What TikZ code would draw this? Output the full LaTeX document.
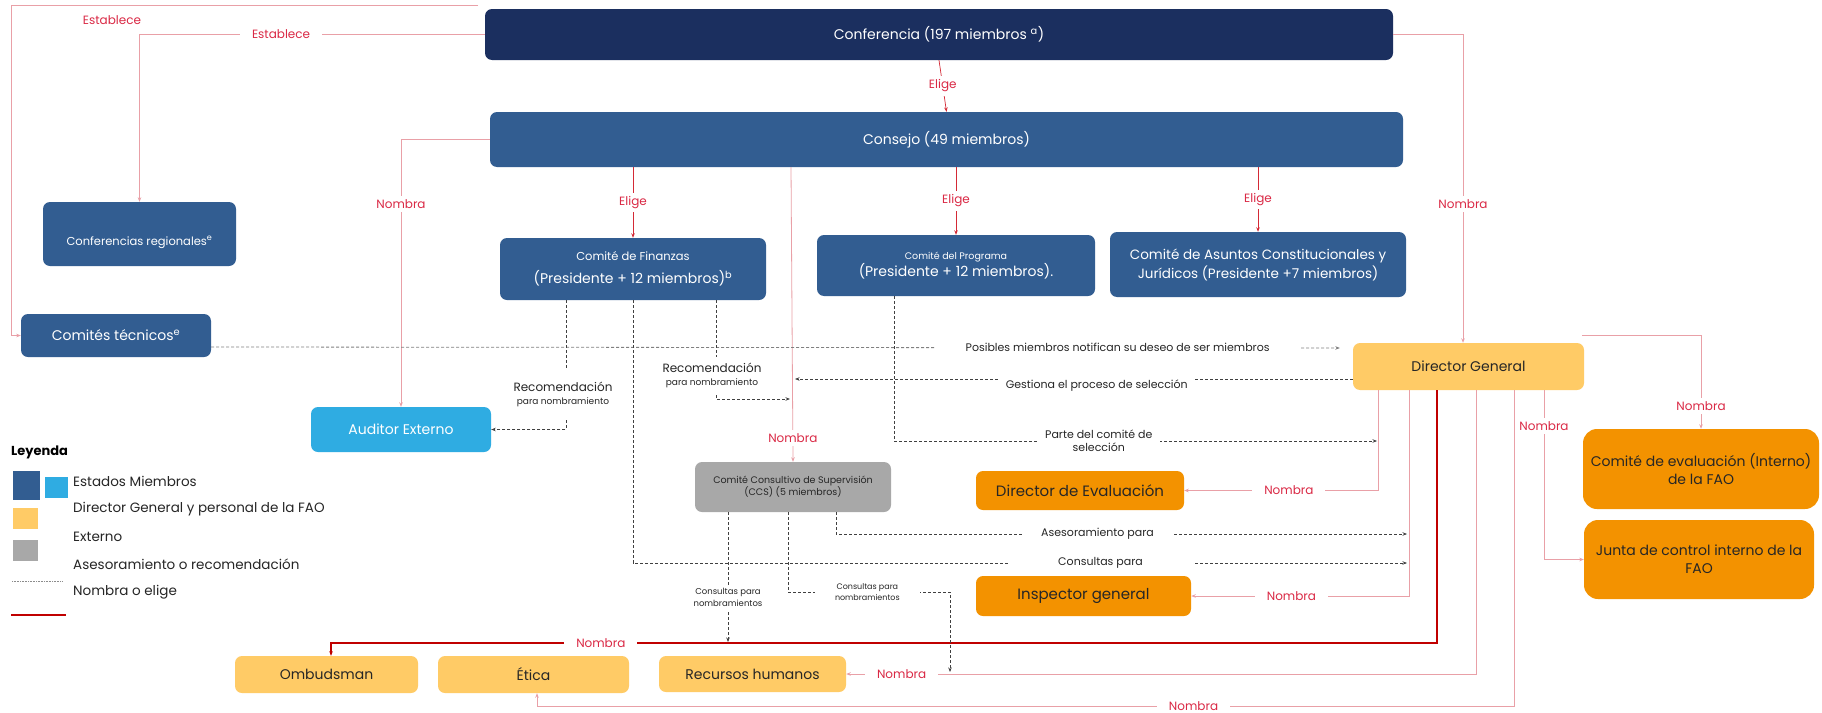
\documentclass[tikz,border=0pt]{standalone}
\usepackage{fontspec}
\setmainfont{Poppins}
\usetikzlibrary{arrows.meta,calc}
\definecolor{navy}{HTML}{1B2F5F}
\definecolor{steel}{HTML}{325D91}
\definecolor{sky}{HTML}{2FACE2}
\definecolor{yel}{HTML}{FFCB66}
\definecolor{org}{HTML}{F39200}
\definecolor{gry}{HTML}{A8A8A8}
\definecolor{pinkred}{HTML}{E9A0A7}
\definecolor{redl}{HTML}{D42A36}
\definecolor{darkred}{HTML}{C00000}
\definecolor{labred}{HTML}{DA2945}
\definecolor{dtext}{HTML}{262626}
\newcommand\myfs[2]{\fontsize{#1}{#2}\selectfont}
\begin{document}
\begin{tikzpicture}[x=1pt,y=-1pt,
  box/.style={rounded corners=7pt, align=center, inner sep=1pt},
  bluebox/.style={box, fill=steel, text=white},
  yelbox/.style={box, fill=yel, text=dtext},
  orgbox/.style={box, fill=org, text=dtext},
  tip/.style={-{Stealth[length=4.5pt,width=3.5pt]}},
  nom/.style={draw=pinkred, line width=0.8pt, tip},
  eli/.style={draw=redl, line width=0.7pt, tip},
  dk/.style={draw=darkred, line width=1.4pt, tip},
  adv/.style={draw=black!75, line width=0.8pt, dash pattern=on 3pt off 2pt, tip},
  rlab/.style={fill=white, text=labred, font=\myfs{12}{14}, inner xsep=12pt, inner ysep=3.5pt},
  dlab/.style={fill=white, text=dtext, font=\myfs{11}{13}, align=center, inner sep=2pt},
  legt/.style={anchor=west, text=dtext, font=\myfs{13.5}{16}, inner sep=0pt}
]
\fill[white] (0,0) rectangle (1822,712);
\useasboundingbox (0,0) rectangle (1822,712);

% ---------- boxes ----------
\node[box, fill=navy, text=white, minimum width=908pt, minimum height=51pt, font=\myfs{14}{17}] (conf) at (939,34.5) {Conferencia (197 miembros \textsuperscript{a})};
\node[bluebox, minimum width=913pt, minimum height=55pt, font=\myfs{14}{17}] (consejo) at (946.5,139.5) {Consejo (49 miembros)};
\node[bluebox, minimum width=193pt, minimum height=64pt, font=\myfs{11.5}{14}, text height=22pt, text depth=0pt] (creg) at (139.5,234) {Conferencias regionales\textsuperscript{e}};
\node[bluebox, minimum width=190pt, minimum height=43pt, font=\myfs{14}{17}] (ct) at (116,335.5) {Comités técnicos\textsuperscript{e}};
\node[box, fill=sky, text=white, minimum width=180pt, minimum height=45pt, font=\myfs{14}{17}] (aud) at (401,429.5) {Auditor Externo};
\node[bluebox, minimum width=266pt, minimum height=62pt, font=\myfs{14}{23}] (fin) at (633,269) {{\myfs{11.5}{14}Comité de Finanzas}\\(Presidente + 12 miembros)\textsuperscript{b}};
\node[bluebox, minimum width=278pt, minimum height=61pt, font=\myfs{14}{17}] (prog) at (956,265.5) {{\myfs{9.5}{12}Comité del Programa}\\(Presidente + 12 miembros).};
\node[bluebox, minimum width=296pt, minimum height=65pt, font=\myfs{13.5}{19}] (asu) at (1258,264.5) {Comité de Asuntos Constitucionales y\\Jurídicos (Presidente +7 miembros)};
\node[yelbox, minimum width=231pt, minimum height=47pt, font=\myfs{14}{17}] (dg) at (1468.5,366.5) {Director General};
\node[orgbox, rounded corners=14pt, minimum width=236pt, minimum height=80pt, font=\myfs{14}{18}] (ceval) at (1701,469) {Comité de evaluación (Interno)\\de la FAO};
\node[orgbox, rounded corners=14pt, minimum width=230pt, minimum height=79pt, font=\myfs{14}{18}] (junta) at (1699,559.5) {Junta de control interno de la\\FAO};
\node[orgbox, minimum width=208pt, minimum height=39pt, font=\myfs{15}{18}] (direval) at (1080,490.5) {Director de Evaluación};
\node[orgbox, minimum width=215pt, minimum height=40pt, font=\myfs{15}{18}] (insp) at (1083.5,596) {Inspector general};
\node[box, fill=gry, text=dtext, minimum width=196pt, minimum height=50pt, font=\myfs{9.5}{12}] (ccs) at (793,487) {Comité Consultivo de Supervisión\\(CCS) (5 miembros)};
\node[yelbox, minimum width=183pt, minimum height=37pt, font=\myfs{14}{17}] (omb) at (326.5,674.5) {Ombudsman};
\node[yelbox, minimum width=191pt, minimum height=37pt, font=\myfs{14}{17}] (eti) at (533.5,674.5) {Ética};
\node[yelbox, minimum width=187pt, minimum height=36pt, font=\myfs{14}{17}] (rh) at (752.5,674) {Recursos humanos};

% ---------- free ends ----------
\coordinate (topstart) at (478,5);
\coordinate (gestend) at (795,379);
\coordinate (recend) at (790,399);
\coordinate (partend) at (1377,441);
\coordinate (asesend) at (1407,534);
\coordinate (consend) at (1407,563);
\coordinate (cnA) at (728,642);
\coordinate (cnB) at (950,672);

% ---------- red connectors ----------
\draw[nom] (topstart) -- (11,5) |- (ct.west);
\node[rlab] (lest1) at (112,20) {Establece};
\draw[nom] (conf.west) -| node[rlab, pos=0.295] (lest2) {Establece} (creg.north);
\draw[eli] (conf.south) -- node[rlab] (lel1) {Elige} (consejo.north);
\draw[nom] (consejo.west) -| node[rlab, pos=0.62] (lno1) {Nombra} (aud.north);
\draw[eli] (consejo.south -| fin.north) -- node[rlab] (lel2) {Elige} (fin.north);
\draw[eli] (consejo.south -| prog.north) -- node[rlab] (lel3) {Elige} (prog.north);
\draw[eli] (consejo.south -| asu.north) -- node[rlab] (lel4) {Elige} (asu.north);
\draw[nom] (conf.east) -| node[rlab, pos=0.775] (lno2) {Nombra} ([xshift=-5.5pt]dg.north);
\draw[nom] ([xshift=-155.5pt]consejo.south) -- node[rlab, pos=0.92] (lno3) {Nombra} (ccs.north);
\draw[nom] ([yshift=7pt,xshift=-2pt]dg.north east) -| node[rlab, pos=0.88] (lno4) {Nombra} (ceval.north);
\draw[nom] ([xshift=75.5pt]dg.south) |- node[rlab, pos=0.106] (lno5) {Nombra} (junta.west);
\draw[nom] ([xshift=-90.5pt]dg.south) |- node[rlab, pos=0.73] (lno6) {Nombra} (direval.east);
\draw[nom] ([xshift=-59.5pt]dg.south) |- node[rlab, pos=0.77] (lno7) {Nombra} (insp.east);
\draw[nom] ([xshift=7.5pt]dg.south) |- node[rlab, pos=0.956] (lno8) {Nombra} (rh.east);
\draw[nom] ([xshift=45.5pt]dg.south) |- node[rlab, pos=0.664] (lno9) {Nombra} (537,706) -- ([xshift=3.5pt]eti.south);
\draw[dk] ([xshift=-31.5pt]dg.south) |- node[rlab, pos=0.878] (lno10) {Nombra} (331,643) -- ([xshift=4.5pt]omb.north);

% ---------- advice connectors ----------
\draw[adv, draw=black!50, shorten >=13pt] ([yshift=-11.5pt]ct.east) -- node[dlab, pos=0.794, inner xsep=30pt] (lpos) {Posibles miembros notifican su deseo de ser miembros} ([yshift=18.5pt]dg.west);
\draw[adv] ([yshift=-12.5pt]dg.west) -- node[dlab, pos=0.459, inner xsep=6pt, inner ysep=6pt, yshift=-7pt] (lges) {Gestiona el proceso de selección} (gestend);
\draw[adv] ([xshift=-62pt]prog.south) |- node[dlab, pos=0.712, inner xsep=8pt, inner ysep=1pt] (lpar) {Parte del comité de\\selección} (partend);
\draw[adv] ([xshift=-67pt]fin.south) |- node[dlab, pos=0.363, inner xsep=1pt, inner ysep=14pt, xshift=-3pt] (lrec1) {{\myfs{12}{14}Recomendación}\\{\myfs{9}{11}para nombramiento}} (aud.east);
\draw[adv] ([xshift=83pt]fin.south) |- node[dlab, pos=0.38, inner xsep=1pt, inner ysep=6pt, xshift=-4pt] (lrec2) {{\myfs{12}{14}Recomendación}\\{\myfs{9}{11}para nombramiento}} (recend);
\draw[adv] (fin.south) |- node[dlab, pos=0.802, inner xsep=50pt] (lcons) {Consultas para} (consend);
\draw[adv] ([xshift=43pt]ccs.south) |- node[dlab, pos=0.729, inner xsep=18pt] (lases) {Asesoramiento para} (asesend);
\draw[adv] ([xshift=-65pt]ccs.south) -- node[dlab, pos=0.66, font=\myfs{8.5}{12}, inner ysep=4pt] (lcn1) {Consultas para\\nombramientos} (cnA);
\draw[adv] ([xshift=-5pt]ccs.south) |- node[dlab, pos=0.745, font=\myfs{8}{11}, inner xsep=20pt, inner ysep=1pt] (lcn2) {Consultas para\\nombramientos} (950,592) -- (cnB);

% ---------- legend ----------
\node[anchor=west, text=black, font=\myfs{13}{15}\bfseries, inner sep=0pt] (leg) at (11,452) {Leyenda};
\node[fill=steel, minimum width=27pt, minimum height=29pt, inner sep=0pt, anchor=north west] (lsq1) at (13,471) {};
\node[fill=sky, minimum width=23pt, minimum height=21pt, inner sep=0pt, anchor=north west] (lsq2) at (45,477) {};
\node[fill=yel, minimum width=25pt, minimum height=21pt, inner sep=0pt, anchor=north west] (lsq3) at (13,508) {};
\node[fill=gry, minimum width=25pt, minimum height=21pt, inner sep=0pt, anchor=north west] (lsq4) at (13,540) {};
\node[legt] (lt1) at (73,481) {Estados Miembros};
\node[legt] (lt2) at (73,509) {Director General y personal de la FAO};
\node[legt] (lt3) at (73,537) {Externo};
\node[legt] (lt4) at (73,564) {Asesoramiento o recomendación};
\node[legt] (lt5) at (73,592) {Nombra o elige};
\coordinate (ld1) at (12,581);
\coordinate (ld2) at (63,581);
\coordinate (lr1) at (11,615);
\coordinate (lr2) at (66,615);
\draw[black!45, line width=0.6pt, dash pattern=on 1pt off 0.6pt] (ld1) -- (ld2);
\draw[darkred, line width=1.4pt] (lr1) -- (lr2);
\end{tikzpicture}
\end{document}
